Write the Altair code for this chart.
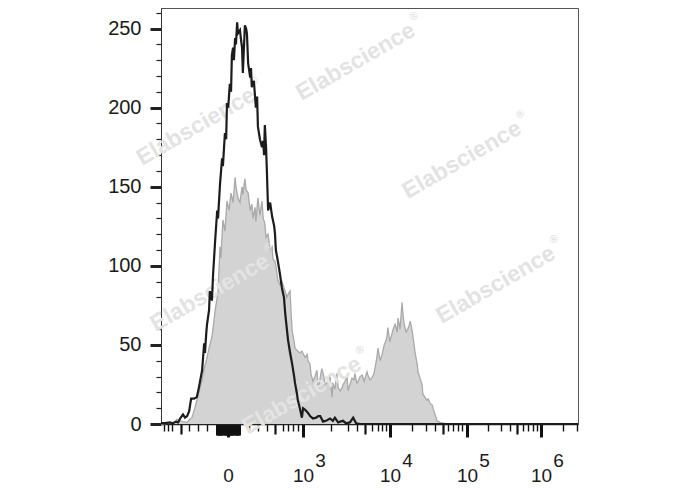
import altair as alt
import pandas as pd

# ---- histogram data (x in display channels 0-1024, y = count) ----
black_x = [0, 10, 22, 29, 37, 42, 47, 54, 59, 64, 69, 74, 81, 88, 93, 101, 106, 108, 111, 113,
           118, 120, 125, 128, 133, 138, 140, 145, 150, 152, 157, 160, 162, 165, 169, 172, 174,
           177, 179, 182, 184, 187, 189, 194, 196, 199, 201, 204, 206, 209, 211, 214, 219, 221,
           223, 228, 233, 236, 238, 243, 248, 251, 253, 255, 258, 260, 263, 268, 273, 278, 280,
           282, 287, 292, 297, 302, 305, 307, 312, 317, 322, 327, 329, 334, 336, 341, 346, 349,
           354, 361, 366, 373, 381, 386, 391, 398, 405, 415, 422, 427, 435, 440, 447, 454, 464,
           472, 479, 489, 1024]
black_y = [0.5, 0.5, 1, 0.5, 1.5, 1, 3.5, 6, 4, 5, 8, 16, 16, 17, 23, 34, 51, 45, 57, 63,
           72, 84, 78, 95, 116, 135, 130, 152, 168, 163, 184, 180, 203, 200, 215, 210, 233,
           238, 230, 244, 240, 254, 247, 249, 244, 238, 222, 240, 252, 250, 247, 228, 219, 225,
           213, 217, 200, 207, 188, 180, 175, 179, 170, 189, 175, 160, 135, 140, 131, 125, 120,
           110, 103, 95, 86, 80, 70, 65, 53, 45, 38, 30, 26, 19, 15, 10, 4, 10,
           9, 7, 5, 3.5, 4, 5, 5, 1.5, 2, 3.5, 2, 4, 1, 1.5, 2, 0.5, 1,
           4, 0.5, 0, 0]

gray_x = [0, 22, 34, 39, 47, 54, 64, 71, 76, 83, 88, 96, 101, 106, 113, 118, 125, 130, 133, 138,
          140, 145, 147, 152, 157, 162, 167, 172, 177, 182, 184, 189, 194, 199, 201, 206, 209,
          214, 219, 223, 226, 231, 233, 238, 243, 248, 251, 255, 258, 263, 268, 273, 275, 280,
          285, 287, 292, 297, 305, 309, 312, 317, 319, 322, 327, 329, 336, 341, 346, 354, 359,
          361, 366, 368, 373, 378, 383, 386, 390, 395, 400, 403, 408, 410, 415, 420, 422, 427,
          432, 435, 440, 445, 447, 452, 457, 459, 464, 469, 474, 476, 481, 484, 489, 494, 499,
          501, 506, 508, 513, 518, 523, 526, 530, 533, 538, 543, 548, 550, 555, 557, 562, 567,
          570, 575, 580, 582, 587, 592, 594, 597, 602, 604, 609, 612, 616, 619, 624, 629, 631,
          636, 641, 643, 648, 653, 656, 661, 666, 668, 673, 678, 685, 693, 705, 1024]
gray_y = [0, 0.5, 1, 3, 2, 1.5, 1, 3, 4, 10, 15, 23, 28, 35, 42, 48, 55, 65, 72, 80,
          84, 112, 105, 129, 122, 141, 135, 146, 140, 156, 150, 143, 140, 150, 145, 155, 148,
          146, 135, 139, 130, 137, 128, 143, 132, 141, 130, 127, 118, 120, 110, 112, 104, 103,
          95, 91, 88, 90, 84, 80, 82, 84, 72, 59, 52, 48, 46, 45, 46, 42, 44,
          40, 38, 32, 27, 30, 34, 21, 28, 35, 30, 25, 26, 27, 30, 17, 26, 22,
          32, 23, 21, 23, 25, 27, 31, 21, 25, 29, 28, 32, 26, 27, 30, 31, 27,
          29, 33, 31, 28, 29, 32, 36, 42, 48, 40, 44, 50, 51, 55, 61, 52, 57,
          60, 63, 58, 67, 60, 77, 70, 63, 58, 59, 62, 65, 60, 55, 45, 38, 33,
          29, 25, 19, 17, 15, 16, 13, 12, 10, 6, 2, 1, 0.5, 0, 0]

# ---- axis ticks (display channel positions) ----
x_major = [164.5, 348.7, 562.3, 751.4, 933.1]
x_major_text = ["0", "10", "10", "10", "10"]
x_exp_pos = [348.7, 562.3, 751.4, 933.1]
x_exp_text = ["3", "4", "5", "6"]
x_medium = [49.1, 279.9, 500.9, 692.5, 874.2]
x_minor = [7.4, 17.2, 27.0, 68.8, 90.9, 113.0, 216.1, 238.2, 260.3, 299.6, 311.9, 324.1,
           336.4, 417.5, 459.2, 481.3, 518.1, 532.9, 542.7, 552.5, 616.4, 650.7, 672.8,
           704.8, 717.0, 729.3, 739.1, 803.0, 834.9, 857.0, 888.9, 901.2, 913.5, 923.3,
           987.2, 1021.5]
x_zero_block = [137.5, 140.2, 142.9, 145.6, 148.3, 151.0, 153.7, 156.4, 159.1, 161.8,
                167.2, 169.9, 172.6, 175.3, 178.0, 180.7, 183.4, 186.1, 188.8, 191.5]

y_ticks = list(range(0, 261, 10))

# ---- watermark positions (data units) ----
wm_x = [86, 478, 739, 120, 822, 346]
wm_y = [188, 229, 167, 83, 88, 18]
wm_text = ["Elabscience"] * 6
wm_mark = ["®"] * 6

black = pd.DataFrame({"x": black_x, "y": black_y})
gray = pd.DataFrame({"x": gray_x, "y": gray_y})
wm = pd.DataFrame({"x": wm_x, "y": wm_y, "t": wm_text, "r": wm_mark})

def js_list(v):
    return "[" + ",".join(str(a) for a in v) + "]"

all_xticks = sorted(x_major + x_medium + x_minor + x_zero_block)

main_label_expr = "datum.value == %s ? '%s' : (indexof(%s, datum.value) >= 0 ? '10' : '')" % (
    x_major[0], x_major_text[0], js_list(x_major[1:]))
exp_label_expr = "%s[indexof(%s, datum.value)]" % (
    "[" + ",".join("'%s'" % t for t in x_exp_text) + "]", js_list(x_exp_pos))

xscale = alt.Scale(domain=[0, 1024], nice=False, zero=False)
yscale = alt.Scale(domain=[0, 263], nice=False)

y_axis = alt.Axis(
    values=y_ticks, title=None, grid=False,
    labelExpr="datum.value % 50 == 0 ? datum.label : ''",
    labelFont="Liberation Sans", labelFontSize=20, labelColor="#1a1a1a",
    labelPadding=9,
    domainColor="#333333", domainWidth=1,
    tickColor="#222222",
    tickSize={"condition": {"test": "datum.value % 50 == 0", "value": 11}, "value": 5},
    tickWidth={"condition": {"test": "datum.value % 50 == 0", "value": 3}, "value": 1.2},
)
y_enc = alt.Y("y:Q", scale=yscale, axis=y_axis)

x_main_axis = alt.Axis(
    values=all_xticks, title=None, grid=False, orient="bottom",
    labelExpr=main_label_expr, labelFont="Liberation Sans", labelFontSize=19,
    labelColor="#1a1a1a", labelPadding=29, labelAngle=0, labelOverlap=False,
    labelFlush=False,
    domainColor="#222222", domainWidth=1.5, tickColor="#111111",
    tickSize={"condition": [
        {"test": "indexof(%s, datum.value) >= 0" % js_list(x_major), "value": 13},
        {"test": "indexof(%s, datum.value) >= 0" % js_list(x_medium), "value": 10},
        {"test": "indexof(%s, datum.value) >= 0" % js_list(x_zero_block), "value": 11}],
        "value": 7},
    tickWidth={"condition": [
        {"test": "indexof(%s, datum.value) >= 0" % js_list(x_major), "value": 3},
        {"test": "indexof(%s, datum.value) >= 0" % js_list(x_medium), "value": 2.2},
        {"test": "indexof(%s, datum.value) >= 0" % js_list(x_zero_block), "value": 3}],
        "value": 1.4},
)
x_exp_axis = alt.Axis(
    values=x_exp_pos, title=None, grid=False, orient="bottom",
    labelExpr=exp_label_expr, labelFont="Liberation Sans", labelFontSize=19,
    labelColor="#1a1a1a", labelPadding=27, labelOffset=17, labelAngle=0,
    labelOverlap=False, labelFlush=False, ticks=False, domain=False,
)

gray_area = alt.Chart(gray).mark_area(color="#d3d3d3", interpolate="linear").encode(
    x=alt.X("x:Q", scale=xscale, axis=x_main_axis), y=y_enc)
gray_line = alt.Chart(gray).mark_line(color="#a9a9a9", strokeWidth=1.3).encode(
    x=alt.X("x:Q", scale=xscale, axis=None), y=y_enc)
marks_wm = alt.Chart(wm).mark_text(
    angle=330, font="Liberation Sans", fontSize=23, fontWeight="bold", color="#e3e3e3"
).encode(x=alt.X("x:Q", scale=xscale, axis=None), y=y_enc, text="t:N")
marks_wm_r = alt.Chart(wm).mark_text(
    angle=330, font="Liberation Sans", fontSize=11, fontWeight="bold", color="#e3e3e3",
    align="left", dx=69, dy=-10
).encode(x=alt.X("x:Q", scale=xscale, axis=None), y=y_enc, text="r:N")
black_line = alt.Chart(black).mark_line(color="#1c1c1c", strokeWidth=2.2).encode(
    x=alt.X("x:Q", scale=xscale, axis=x_exp_axis), y=y_enc)

chart = alt.layer(gray_area, gray_line, marks_wm, marks_wm_r, black_line).resolve_axis(
    x="independent"
).properties(
    width=417, height=416,
    autosize=alt.AutoSizeParams(type="none"),
    padding={"left": 153, "top": 0, "right": 100, "bottom": 72},
).configure_view(stroke="#555555", strokeWidth=1)

chart.save("out.html", embed_options={"renderer": "svg", "actions": False})
